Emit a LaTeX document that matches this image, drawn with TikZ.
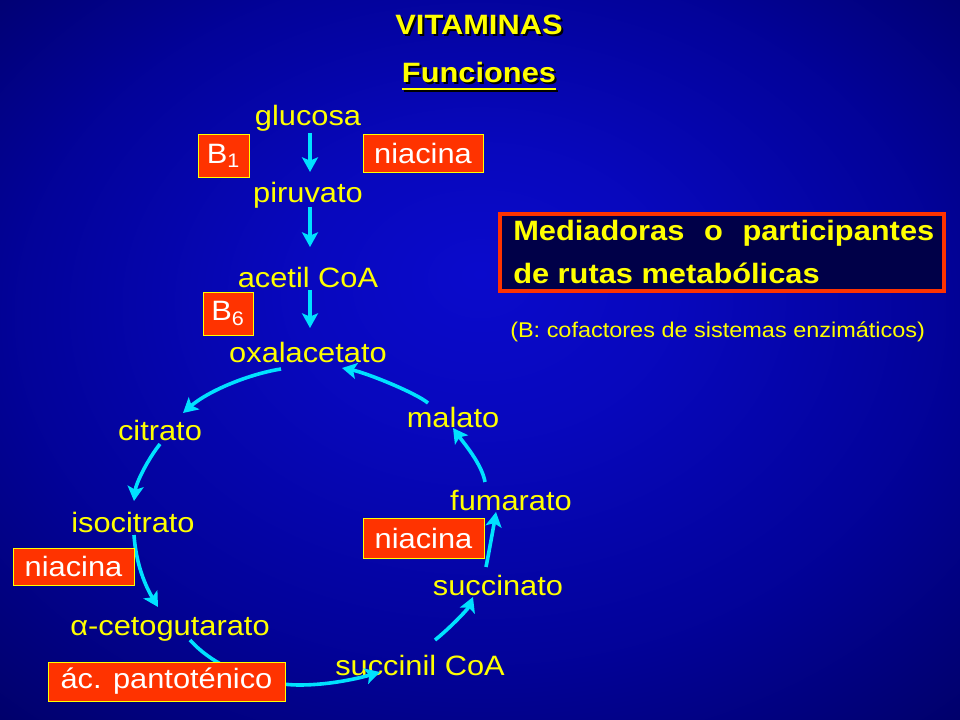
\documentclass[tikz,border=0pt]{standalone}
\usepackage{fontspec}
\setmainfont{Liberation Sans}[FakeStretch=1.1]
\usetikzlibrary{arrows.meta,calc}
\definecolor{labyellow}{RGB}{255,255,0}
\definecolor{flowcyan}{RGB}{0,225,255}
\definecolor{boxred}{RGB}{255,51,0}
\definecolor{medfill}{RGB}{0,0,72}
\pgfdeclareradialshading{slidebg}{\pgfpoint{0bp}{6bp}}{rgb(0bp)=(0.04,0.04,0.80); rgb(10bp)=(0.03,0.03,0.74); rgb(24bp)=(0.01,0.01,0.60); rgb(38bp)=(0,0,0.40); rgb(50bp)=(0,0,0.22)}
\begin{document}
\begin{tikzpicture}[x=0.75pt, y=-0.75pt,
  lbl/.style={anchor=base, inner sep=0pt, text=labyellow, font=\fontsize{21}{25}\selectfont},
  ttl/.style={anchor=base, inner sep=0pt, font=\fontsize{21}{25}\selectfont\bfseries},
  vbox/.style={draw=labyellow, line width=0.6pt, fill=boxred, text=white, inner sep=0pt, font=\fontsize{21}{25}\selectfont},
  flow/.style={draw=flowcyan, line width=2.7pt, -{Stealth[length=11pt,width=12pt,inset=2.5pt]}}]
\shade[shading=slidebg] (0,0) rectangle (960,720);
\useasboundingbox (0,0) rectangle (960,720);

% titles
\node[ttl, text=black] (titlesh) at (481,37) {VITAMINAS};
\node[ttl, text=labyellow] (title) at (479,35) {VITAMINAS};
\node[ttl, text=black] (funcsh) at (481,85) {Funciones};
\draw[black, line width=1.6pt] ($(funcsh.base west)+(0,6)$) -- ($(funcsh.base east)+(0,6)$);
\node[ttl, text=labyellow] (func) at (479,83) {Funciones};
\draw[labyellow, line width=1.6pt] ($(func.base west)+(0,6)$) -- ($(func.base east)+(0,6)$);

% metabolites
\node[lbl] (glucosa) at (308,126) {glucosa};
\node[lbl] (piruvato) at (308,203) {piruvato};
\node[lbl] (acetil) at (308,287) {acetil CoA};
\node[lbl] (oxal) at (308,362) {oxalacetato};
\node[lbl] (citrato) at (160,440) {citrato};
\node[lbl] (isocit) at (133,532) {isocitrato};
\node[lbl] (aceto) at (170,635) {α-cetogutarato};
\node[lbl] (succoa) at (420,675) {succinil CoA};
\node[lbl] (succ) at (498,595) {succinato};
\node[lbl] (fuma) at (511,510) {fumarato};
\node[lbl] (mala) at (453,427) {malato};

% straight arrows
\draw[flow] ($(glucosa.base)+(2,7)$) -- ($(piruvato.base)+(2,-31)$);
\draw[flow] ($(piruvato.base)+(2,4)$) -- ($(acetil.base)+(2,-40)$);
\draw[flow] ($(acetil.base)+(2,3)$) -- ($(oxal.base)+(2,-34)$);

% cycle arrows
\draw[flow] ($(oxal.base)+(-27,7)$) .. controls +(-32,5) and +(25,-22) .. ($(citrato.base)+(23,-27)$);
\draw[flow] ($(citrato.base)+(0,4)$) .. controls +(-12,15) and +(2,-18) .. ($(isocit.base)+(1,-31)$);
\draw[flow] ($(isocit.base)+(1,3)$) .. controls +(2,30) and +(-12,-20) .. ($(aceto.base)+(-12,-28)$);
\draw[flow] ($(aceto.base)+(20,5)$) .. controls +(25,28) and +(-40,0) .. ($(succoa.base)+(-120,10)$) .. controls +(30,0) and +(-20,6) .. ($(succoa.base)+(-40,-3)$);
\draw[flow] ($(succoa.base)+(15,-35)$) .. controls +(15,-12) and +(-5,12) .. ($(succ.base)+(-25,2)$);
\draw[flow] ($(succ.base)+(-12,-28)$) .. controls +(3,-15) and +(-2,12) .. ($(fuma.base)+(-15,2)$);
\draw[flow] ($(fuma.base)+(-26,-28)$) .. controls +(-3,-18) and +(10,14) .. ($(mala.base)+(0,1)$);
\draw[flow] ($(mala.base)+(-25,-24)$) .. controls +(-12,-10) and +(25,5) .. ($(oxal.base)+(34,6)$);

% vitamin boxes
\node[vbox, minimum width=38.25pt, minimum height=32.25pt] (b1) at (223.5,155.5) {B\textsubscript{1}};
\node[vbox, minimum width=90pt, minimum height=28.5pt] (niac1) at (423,153) {niacina};
\node[vbox, minimum width=37.5pt, minimum height=32.25pt] (b6) at (228,313.5) {B\textsubscript{6}};
\node[vbox, minimum width=90.75pt, minimum height=27.75pt] (niac2) at (73.5,566.5) {niacina};
\node[vbox, minimum width=177.75pt, minimum height=29.25pt] (panto) at (166.5,681.5) {ác. pantoténico};
\node[vbox, minimum width=90.75pt, minimum height=30pt] (niac3) at (423.5,538) {niacina};

% right box
\node[draw=boxred, line width=3pt, fill=medfill, minimum width=333pt, minimum height=57.75pt, inner sep=0pt] (medbox) at (722,252.5) {};
\node[ttl, anchor=base west, text=labyellow] (med1) at (513,241) {\makebox[315.75pt][s]{Mediadoras o participantes}};
\node[ttl, anchor=base west, text=labyellow] (med2) at (513,284) {de rutas metabólicas};
\node[anchor=base west, inner sep=0pt, text=labyellow, font=\fontsize{16}{19}\selectfont] (cofac) at (510,337) {(B: cofactores de sistemas enzimáticos)};
\end{tikzpicture}
\end{document}
